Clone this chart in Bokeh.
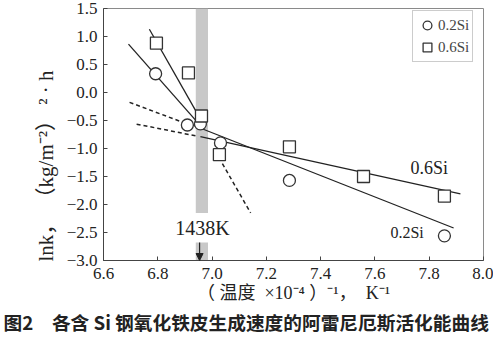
from bokeh.plotting import figure
from bokeh.embed import file_html
from bokeh.resources import INLINE
from bokeh.models import Label, Legend, LegendItem, Arrow, NormalHead, FixedTicker, Range1d, Title

# ---- data ----
x_02 = [6.792, 6.909, 6.957, 7.031, 7.285, 7.856]
y_02 = [0.335, -0.58, -0.56, -0.90, -1.57, -2.56]
x_06 = [6.795, 6.913, 6.961, 7.027, 7.285, 7.558, 7.856]
y_06 = [0.88, 0.35, -0.42, -1.11, -0.97, -1.50, -1.85]

fit_02_high_x = [6.692, 6.965]
fit_02_high_y = [0.865, -0.635]
fit_02_low_x = [6.928, 7.89]
fit_02_low_y = [-0.58, -2.42]
fit_02_ext_x = [6.696, 6.891]
fit_02_ext_y = [-0.176, -0.53]

fit_06_high_x = [6.769, 6.972]
fit_06_high_y = [1.13, -0.60]
fit_06_high_ext_x = [7.038, 7.142]
fit_06_high_ext_y = [-1.27, -2.15]
fit_06_low_x = [6.957, 7.915]
fit_06_low_y = [-0.79, -1.81]
fit_06_ext_x = [6.722, 6.946]
fit_06_ext_y = [-0.565, -0.78]

band_x = [6.94, 6.985]
t_1438 = 6.954

x_ticks = [6.6, 6.8, 7.0, 7.2, 7.4, 7.6, 7.8, 8.0]
x_tick_labels = ["6.6", "6.8", "7.0", "7.2", "7.4", "7.6", "7.8", "8.0"]
y_ticks = [-3.0, -2.5, -2.0, -1.5, -1.0, -0.5, 0.0, 0.5, 1.0, 1.5]
y_tick_labels = ["\u22123.0", "\u22122.5", "\u22122.0", "\u22121.5", "\u22121.0",
                 "\u22120.5", "0.0", "0.5", "1.0", "1.5"]

SERIF = "Liberation Serif"
CJK = "Noto Sans CJK SC"
MIXED = "'Liberation Serif', 'Noto Sans CJK SC'"
NB = "\u00a0"

p = figure(width=493, height=339, output_backend="svg", toolbar_location=None,
           x_range=Range1d(6.6, 8.0), y_range=Range1d(-3.0, 1.5),
           min_border_left=103, min_border_right=10, min_border_top=8, min_border_bottom=79)
p.background_fill_color = "white"
p.border_fill_color = "white"
p.outline_line_color = "#8a8a8a"
p.xgrid.visible = False
p.ygrid.visible = False

for ax in (p.xaxis[0], p.yaxis[0]):
    ax.axis_line_color = "#444444"
    ax.major_tick_in = 4
    ax.major_tick_out = 0
    ax.minor_tick_line_color = None
    ax.major_tick_line_color = "#444444"
    ax.major_label_text_font = SERIF
    ax.major_label_text_color = "#222222"

p.xaxis.ticker = FixedTicker(ticks=x_ticks)
p.xaxis.major_label_overrides = {t: s for t, s in zip(x_ticks, x_tick_labels)}
p.xaxis.major_label_text_font_size = "17px"
p.xaxis.major_label_standoff = 7
p.xaxis.axis_label = ("\uff08" + NB + "\u6e29\u5ea6" + NB * 2 + "\u00d710\u207b\u2074" + NB +
                      "\uff09\u207b\u00b9\uff0c" + NB * 2 + "K\u207b\u00b9")
p.xaxis.axis_label_text_font = MIXED
p.xaxis.axis_label_text_font_style = "normal"
p.xaxis.axis_label_text_font_size = "18px"
p.xaxis.axis_label_text_color = "#222222"
p.xaxis.axis_label_standoff = 1

p.yaxis.ticker = FixedTicker(ticks=y_ticks)
p.yaxis.major_label_overrides = {t: s for t, s in zip(y_ticks, y_tick_labels)}
p.yaxis.major_label_text_font_size = "17px"
p.yaxis.major_label_standoff = 6
# trailing ideographic spaces push the visible title down, as in the original
p.yaxis.axis_label = ("lnk\uff0c" + NB + "\uff08kg/m\u207b\u00b2\uff09" + NB + "\u00b2" + NB +
                      "\u00b7" + NB + "h" + "\u3000\u3000\u3000")
p.yaxis.axis_label_text_font = MIXED
p.yaxis.axis_label_text_font_style = "normal"
p.yaxis.axis_label_text_font_size = "21px"
p.yaxis.axis_label_text_color = "#222222"
p.yaxis.axis_label_standoff = 6

# gray band at 1438 K
p.quad(left=band_x[0], right=band_x[1], bottom=-2.15, top=1.5,
       fill_color="#c8c8c8", line_color=None)
p.quad(left=band_x[0], right=band_x[1], bottom=-3.0, top=-2.68,
       fill_color="#c8c8c8", line_color=None)
p.add_layout(Arrow(x_start=t_1438, y_start=-2.68, x_end=t_1438, y_end=-3.0,
                   line_color="#222222", line_width=1.2,
                   end=NormalHead(size=7, fill_color="#222222", line_color="#222222")))

LC = "#222222"
p.line(fit_02_high_x, fit_02_high_y, line_color=LC, line_width=1.3)
p.line(fit_02_low_x, fit_02_low_y, line_color=LC, line_width=1.3)
p.line(fit_02_ext_x, fit_02_ext_y, line_color=LC, line_width=1.5, line_dash="4 3")
p.line(fit_06_high_x, fit_06_high_y, line_color=LC, line_width=1.3)
p.line(fit_06_low_x, fit_06_low_y, line_color=LC, line_width=1.3)
p.line(fit_06_ext_x, fit_06_ext_y, line_color=LC, line_width=1.5, line_dash="4 3")
p.line(fit_06_high_ext_x, fit_06_high_ext_y, line_color=LC, line_width=1.5, line_dash="4 3")

r02 = p.scatter(x_02, y_02, marker="circle", size=12, fill_color="white",
                line_color="#333333", line_width=1.3)
r06 = p.scatter(x_06, y_06, marker="square", size=12, fill_color="white",
                line_color="#333333", line_width=1.3)

legend = Legend(items=[LegendItem(label="0.2Si", renderers=[r02]),
                       LegendItem(label="0.6Si", renderers=[r06])],
                location=(309, 198), orientation="vertical",
                label_text_font=SERIF, label_text_font_size="15px",
                glyph_width=22, glyph_height=22, label_height=22, label_standoff=0,
                padding=3, spacing=0, margin=0,
                border_line_color="#999999", border_line_width=1,
                background_fill_color="white")
p.add_layout(legend, "center")

p.add_layout(Label(x=6.965, y=-2.42, text="1438K", text_font=SERIF, text_font_size="20px",
                   text_align="center", text_baseline="middle", text_color="#222222"))
p.add_layout(Label(x=7.731, y=-1.34, text="0.6Si", text_font=SERIF, text_font_size="18px",
                   text_align="left", text_baseline="middle", text_color="#222222"))
p.add_layout(Label(x=7.657, y=-2.505, text="0.2Si", text_font=SERIF, text_font_size="16px",
                   text_align="left", text_baseline="middle", text_color="#222222"))

# figure caption
cap = Title(text="\u56fe2\u3000\u5404\u542b Si \u94a2\u6c27\u5316\u94c1\u76ae\u751f\u6210\u901f\u5ea6\u7684\u963f\u96f7\u5c3c\u5384\u65af\u6d3b\u5316\u80fd\u66f2\u7ebf",
            align="left", offset=-100, text_font=CJK, text_font_size="18.7px",
            text_font_style="bold", text_color="#222222", standoff=1)
p.add_layout(cap, "below")

open("out.html", "w").write(file_html(p, INLINE))
